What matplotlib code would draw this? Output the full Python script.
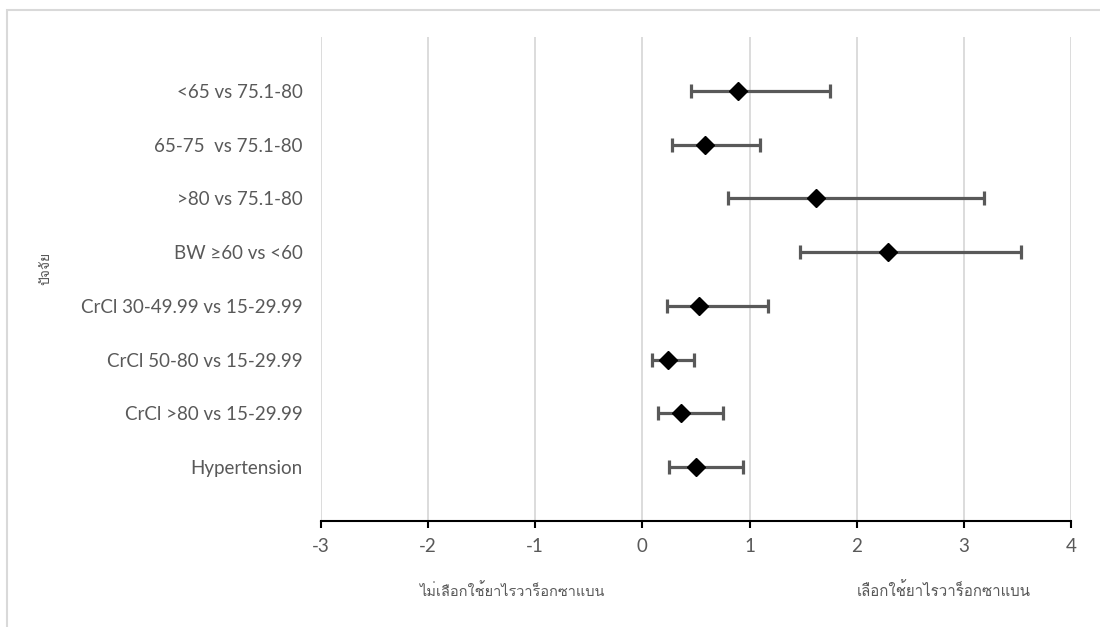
import matplotlib
matplotlib.use('Agg')
import matplotlib.pyplot as plt
from matplotlib import font_manager
from matplotlib.ft2font import FT2Font
from matplotlib.patches import Rectangle


def find_thai_font():
    # look for any installed font that has Thai glyphs
    for f in font_manager.fontManager.ttflist:
        try:
            if ord('ก') in FT2Font(f.fname).get_charmap():
                return f.name
        except Exception:
            pass
    return None


thai = find_thai_font()
fam = ['Lato', 'DejaVu Sans'] if thai is None else ['Lato', thai, 'DejaVu Sans']
plt.rcParams['font.family'] = fam

# data
factors = ['<65 vs 75.1-80', '65-75  vs 75.1-80', '>80 vs 75.1-80', 'BW \u226560 vs <60',
           'CrCl 30-49.99 vs 15-29.99', 'CrCl 50-80 vs 15-29.99', 'CrCl >80 vs 15-29.99',
           'Hypertension']
estimate = [0.89, 0.58, 1.62, 2.29, 0.53, 0.24, 0.36, 0.50]
lower = [0.45, 0.28, 0.80, 1.47, 0.23, 0.09, 0.15, 0.25]
upper = [1.75, 1.10, 3.19, 3.53, 1.17, 0.48, 0.75, 0.94]
xticks = [-3, -2, -1, 0, 1, 2, 3, 4]

grey = '#595959'
ypos = list(range(len(factors), 0, -1))
err = [[e - l for e, l in zip(estimate, lower)], [u - e for e, u in zip(estimate, upper)]]

fig = plt.figure(figsize=(11, 6.27), dpi=100)
ax = fig.add_axes([0.2918, 0.169, 0.6818, 0.772])

# chart border like the excel one
fig.patches.append(Rectangle((7 / 1100, -0.1), 1.2, 1 - 10 / 627 + 0.1, transform=fig.transFigure,
                             fill=False, edgecolor='#d9d9d9', linewidth=1.5))

ax.errorbar(estimate, ypos, xerr=err, fmt='D', color='black', markersize=9.5,
            ecolor=grey, elinewidth=2.3, capsize=5, capthick=2.3, zorder=3)

ax.set_xlim(-3, 4)
ax.set_ylim(0, 9)
ax.set_xticks(xticks)
ax.set_xticklabels([str(t) for t in xticks])
ax.set_yticks(ypos)
ax.set_yticklabels(factors)
ax.grid(axis='x', color='#d9d9d9', linewidth=1.3)
ax.set_axisbelow(True)
for s in ['top', 'right', 'left']:
    ax.spines[s].set_visible(False)
ax.spines['bottom'].set_linewidth(1.5)
ax.tick_params(axis='x', direction='out', length=5, width=1.5, colors='black',
               labelcolor=grey, labelsize=13.5, pad=7)
ax.tick_params(axis='y', length=0, labelcolor=grey, labelsize=13.5, pad=13)

fig.text(45 / 1100, 1 - 268 / 627, 'ปัจจัย', rotation=90, ha='center', va='center',
         color=grey, fontsize=10)
fig.text(513 / 1100, 1 - 591 / 627, 'ไม่เลือกใช้ยาไรวาร็อกซาแบน', ha='center', va='center',
         color=grey, fontsize=10.5)
fig.text(944 / 1100, 1 - 591 / 627, 'เลือกใช้ยาไรวาร็อกซาแบน', ha='center', va='center',
         color=grey, fontsize=10.8)

fig.savefig('out.png', dpi=100)
